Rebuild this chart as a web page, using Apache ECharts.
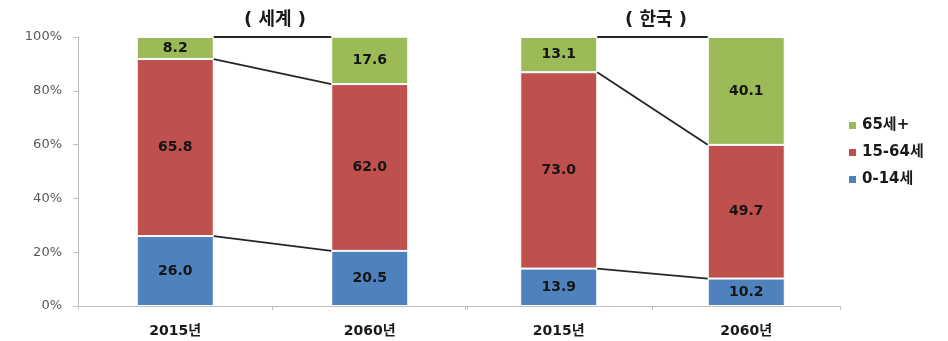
<!DOCTYPE html>
<html>
<head>
<meta charset="utf-8">
<script src="https://cdn.jsdelivr.net/npm/echarts@6/dist/echarts.min.js"></script>
<style>
html,body{margin:0;padding:0;background:#fff;}
#chart{width:948px;height:341px;}
</style>
</head>
<body>
<div id="chart"></div>
<script>
var categories = ['2015년', '2060년'];
var panelTitles = ['( 세계 )', '( 한국 )'];
var seriesNames = ['0-14세', '15-64세', '65세+'];
var world0_14 = [26.0, 20.5];
var world15_64 = [65.8, 62.0];
var world65 = [8.2, 17.6];
var korea0_14 = [13.9, 10.2];
var korea15_64 = [73.0, 49.7];
var korea65 = [13.1, 40.1];
var yTicks = [0, 20, 40, 60, 80, 100];

var FONT = "'DejaVu Sans', 'Noto Sans CJK KR', sans-serif";
var colors = ['#4F81BD', '#C0504D', '#9BBB59'];
var BAR_W = 77;

function boundaries(a, b) {
  var res = [];
  for (var i = 0; i < 2; i++) {
    res.push([a[i], a[i] + b[i], 100]);
  }
  return [[0, res[0][0], res[1][0]], [0, res[0][1], res[1][1]], [0, res[0][2], res[1][2]]];
}

function barSeries(gi, arrs) {
  return arrs.map(function (d, k) {
    return {
      type: 'bar',
      name: seriesNames[k],
      xAxisIndex: gi, yAxisIndex: gi,
      stack: 'p' + gi,
      barWidth: BAR_W,
      data: d,
      itemStyle: { color: colors[k], borderColor: '#ffffff', borderWidth: 1 },
      label: {
        show: true, position: 'inside',
        formatter: function (p) { return p.value.toFixed(1); },
        fontFamily: FONT, fontWeight: 'bold', fontSize: 14, color: '#151515'
      }
    };
  });
}

function connectorSeries(gi, data) {
  return {
    type: 'custom',
    xAxisIndex: gi, yAxisIndex: gi,
    silent: true,
    clip: false,
    z: 5,
    encode: { x: 0, y: [1, 2] },
    data: data,
    renderItem: function (params, api) {
      var p0 = api.coord([0, api.value(1)]);
      var p1 = api.coord([1, api.value(2)]);
      return {
        type: 'line',
        shape: { x1: p0[0] + BAR_W / 2, y1: p0[1], x2: p1[0] - BAR_W / 2, y2: p1[1] },
        style: { stroke: '#262626', lineWidth: 1.8 }
      };
    }
  };
}

var xAxisBase = {
  type: 'category',
  data: categories,
  axisLine: { lineStyle: { color: '#bfbfbf', width: 1 } },
  axisTick: { show: true, length: 4, lineStyle: { color: '#bfbfbf' } },
  axisLabel: { fontFamily: FONT, fontWeight: 'bold', fontSize: 14, color: '#1a1a1a', margin: 18 }
};

var chart = echarts.init(document.getElementById('chart'));
chart.setOption({
  animation: false,
  backgroundColor: '#ffffff',
  title: [
    { text: panelTitles[0], left: 270, top: 6, textAlign: 'center',
      textStyle: { fontFamily: FONT, fontWeight: 'bold', fontSize: 18, color: '#1a1a1a' } },
    { text: panelTitles[1], left: 651, top: 6, textAlign: 'center',
      textStyle: { fontFamily: FONT, fontWeight: 'bold', fontSize: 18, color: '#1a1a1a' } }
  ],
  legend: {
    orient: 'vertical',
    left: 842, top: 113,
    itemWidth: 9, itemHeight: 9, itemGap: 12,
    icon: 'rect',
    data: ['65세+', '15-64세', '0-14세'],
    textStyle: { fontFamily: FONT, fontWeight: 'bold', fontSize: 15, color: '#1a1a1a' }
  },
  grid: [
    { left: 78, top: 37, width: 389, bottom: 35 },
    { left: 465, top: 37, width: 375, bottom: 35 }
  ],
  xAxis: [
    Object.assign({ gridIndex: 0 }, xAxisBase),
    Object.assign({ gridIndex: 1 }, xAxisBase)
  ],
  yAxis: [
    { type: 'value', gridIndex: 0, min: yTicks[0], max: yTicks[yTicks.length - 1], interval: 20,
      splitLine: { show: false },
      axisLine: { show: true, lineStyle: { color: '#bfbfbf' } },
      axisTick: { show: true, length: 5, lineStyle: { color: '#bfbfbf' } },
      axisLabel: { formatter: '{value}%', fontFamily: FONT, fontSize: 13, color: '#595959', margin: 16 } },
    { type: 'value', gridIndex: 1, min: 0, max: 100, interval: 20, show: false,
      splitLine: { show: false } }
  ],
  series: []
    .concat(barSeries(0, [world0_14, world15_64, world65]))
    .concat(barSeries(1, [korea0_14, korea15_64, korea65]))
    .concat([connectorSeries(0, boundaries(world0_14, world15_64)),
             connectorSeries(1, boundaries(korea0_14, korea15_64))])
});
</script>
</body>
</html>
